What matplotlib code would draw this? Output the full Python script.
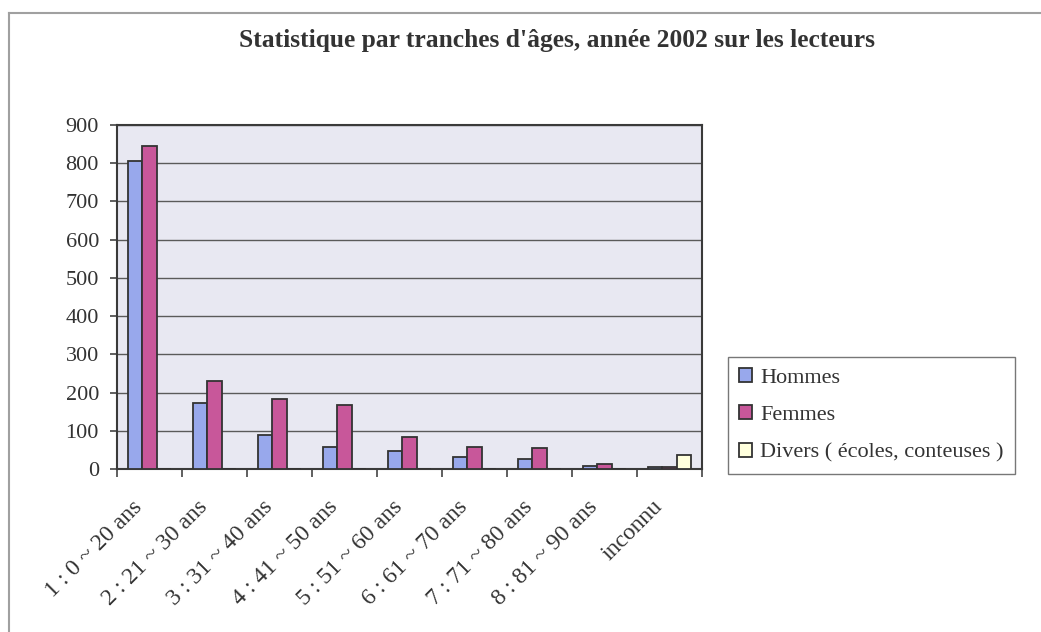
import numpy as np
import matplotlib
matplotlib.use("Agg")
import matplotlib.pyplot as plt
import matplotlib.transforms as mtransforms
from matplotlib.lines import Line2D
from matplotlib.patches import Patch

# Data
categories = ["1 : 0 ~ 20 ans", "2 : 21 ~ 30 ans", "3 : 31 ~ 40 ans", "4 : 41 ~ 50 ans",
              "5 : 51 ~ 60 ans", "6 : 61 ~ 70 ans", "7 : 71 ~ 80 ans", "8 : 81 ~ 90 ans",
              "inconnu"]
hommes = [805, 173, 90, 58, 47, 32, 26, 9, 6]
femmes = [845, 230, 183, 167, 84, 58, 54, 13, 6]
divers = [0, 0, 0, 0, 0, 0, 0, 0, 36]
series_names = ["Hommes", "Femmes", "Divers ( écoles, conteuses )"]
y_ticks = [0, 100, 200, 300, 400, 500, 600, 700, 800, 900]

colors = ["#98A8EC", "#C8579A", "#FFFFDD"]
edge = "#333333"
serif = ["Liberation Serif", "DejaVu Serif"]

plt.rcParams["font.family"] = serif

fig = plt.figure(figsize=(10.41, 6.32), dpi=100)
ax = fig.add_axes([117 / 1041, 1 - 469 / 632, 585 / 1041, 344 / 632])
ax.set_facecolor("#E8E8F2")

x = np.arange(len(categories))
w = 0.222
for i, (vals, c) in enumerate(zip([hommes, femmes, divers], colors)):
    ax.bar(x + (i - 1) * w, vals, width=w, color=c, edgecolor=edge,
           linewidth=1.3, zorder=3)

ax.set_xlim(-0.5, len(categories) - 0.5)
ax.set_ylim(0, 900)
ax.set_yticks(y_ticks)
ax.yaxis.grid(True, color="#5A5A5A", linewidth=1.0, zorder=1)
ax.set_axisbelow(True)

# labels at centers, tick marks at group boundaries
ax.set_xticks(x)
ax.set_xticklabels(categories, rotation=45, ha="right", va="center", rotation_mode="anchor")
ax.set_xticks(np.arange(len(categories) + 1) - 0.5, minor=True)
ax.tick_params(axis="x", which="major", length=0, pad=25, labelsize=17, labelcolor="#333333")
ax.tick_params(axis="x", which="minor", length=6, width=1.2, color="#444444", direction="out")
ax.tick_params(axis="y", length=5, width=1.2, color="#444444", labelsize=16,
               labelcolor="#333333", pad=8)

# nudge rotated labels a bit to the left, like the original
shift = mtransforms.ScaledTranslation(-10 / 100, 0, fig.dpi_scale_trans)
for lab in ax.get_xticklabels():
    lab.set_transform(lab.get_transform() + shift)

for s in ax.spines.values():
    s.set_color("#3A3A3A")
    s.set_linewidth(1.5)

fig.text(557 / 1041, 1 - 40 / 632, "Statistique par tranches d'âges, année 2002 sur les lecteurs",
         ha="center", va="center", fontsize=18.4, fontweight="bold", color="#333333")

handles = [Patch(facecolor=c, edgecolor=edge, linewidth=1.3) for c in colors]
leg = fig.legend(handles, series_names, loc="upper left",
                 bbox_to_anchor=(728 / 1041, 1 - 357 / 632),
                 fontsize=16, frameon=True, fancybox=False, handlelength=0.6,
                 handleheight=0.6, handletextpad=0.35, labelspacing=0.78,
                 borderpad=0.5, borderaxespad=0)
leg.get_frame().set_edgecolor("#555555")
leg.get_frame().set_linewidth(1.0)
for t in leg.get_texts():
    t.set_color("#333333")

# outer chart border (top and left visible)
fig.add_artist(Line2D([9 / 1041, 1], [1 - 13 / 632, 1 - 13 / 632], color="#A0A0A0", linewidth=1.5))
fig.add_artist(Line2D([9 / 1041, 9 / 1041], [0, 1 - 13 / 632], color="#A0A0A0", linewidth=1.5))

fig.savefig("out.png", dpi=100)
